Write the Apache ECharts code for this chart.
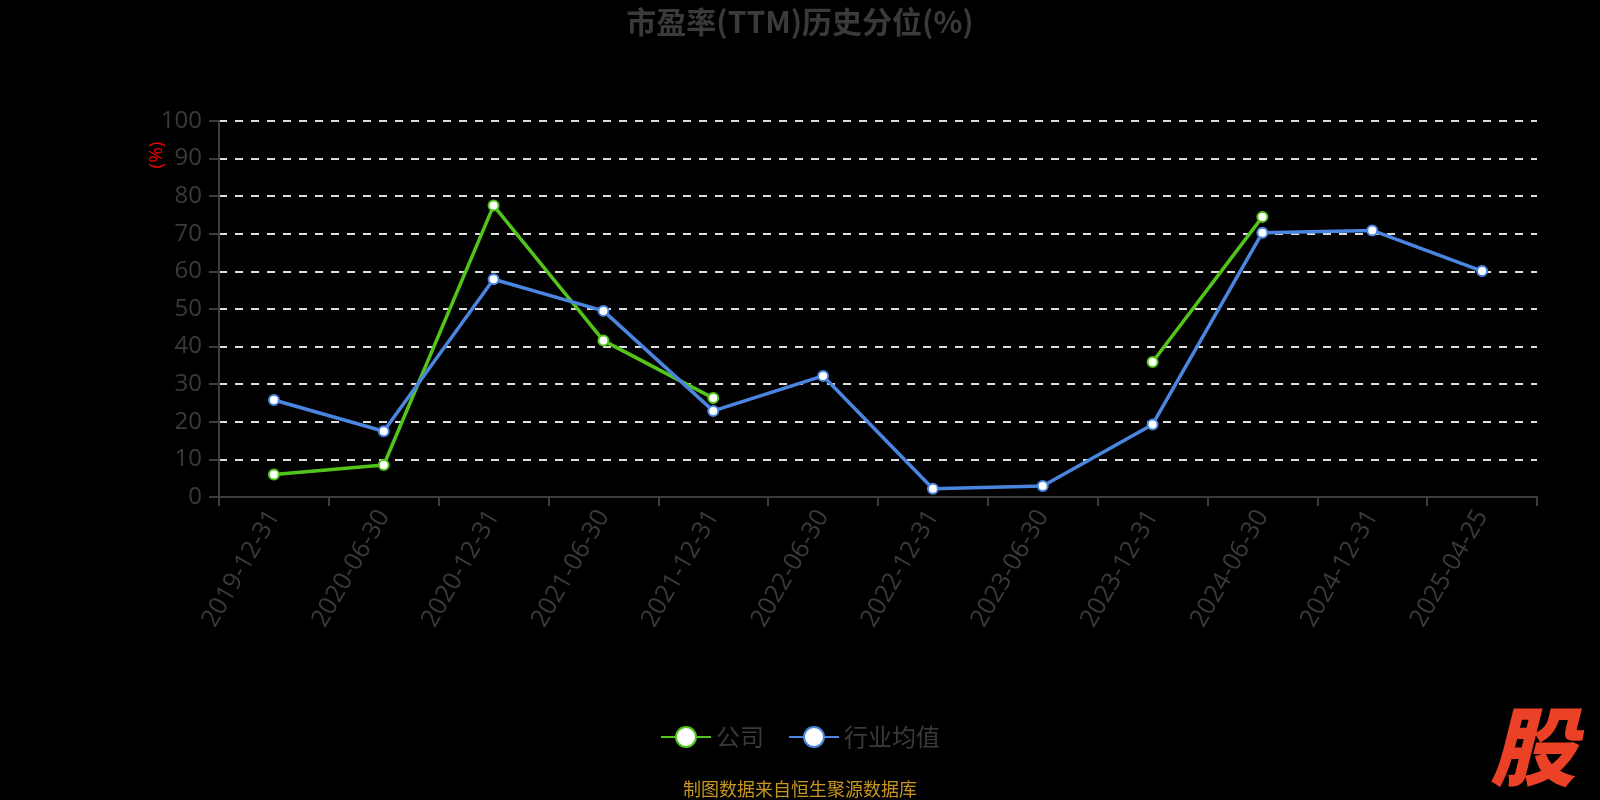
<!DOCTYPE html>
<html>
<head>
<meta charset="utf-8">
<script src="https://cdn.jsdelivr.net/npm/echarts@6/dist/echarts.min.js"></script>
<style>
html,body{margin:0;padding:0;background:#000;}
#chart{width:1600px;height:800px;}
</style>
</head>
<body>
<div id="chart"></div>
<script>
const categories = ['2019-12-31','2020-06-30','2020-12-31','2021-06-30','2021-12-31','2022-06-30','2022-12-31','2023-06-30','2023-12-31','2024-06-30','2024-12-31','2025-04-25'];
const companyValues = [6.0, 8.5, 77.5, 41.6, 26.3, null, null, null, 35.9, 74.5, null, null];
const industryValues = [25.8, 17.5, 57.9, 49.5, 22.9, 32.2, 2.2, 2.9, 19.3, 70.3, 70.9, 60.1];
const yTicks = [0,10,20,30,40,50,60,70,80,90,100];
const titleText = '市盈率(TTM)历史分位(%)';
const seriesNames = ['公司', '行业均值'];
const sourceText = '制图数据来自恒生聚源数据库';

const green = '#52c41a';
const blue = '#4a86e0';
const font = '"Open Sans","Noto Sans","Noto Sans CJK SC",sans-serif';

const chart = echarts.init(document.getElementById('chart'));
chart.setOption({
  backgroundColor: '#000',
  animation: false,
  title: {
    text: titleText,
    left: 'center',
    top: 2,
    textStyle: { color: '#3a3a3a', fontSize: 30, fontWeight: 'bold', fontFamily: '"Noto Sans CJK SC",sans-serif' }
  },
  legend: {
    data: seriesNames,
    left: 'center',
    top: 720,
    itemWidth: 50,
    itemHeight: 25,
    itemGap: 24,
    textStyle: { color: '#3a3a3a', fontSize: 24, fontFamily: '"Noto Sans CJK SC",sans-serif' }
  },
  grid: { left: 219, right: 63, top: 121, bottom: 303 },
  xAxis: {
    type: 'category',
    data: categories,
    boundaryGap: true,
    axisLine: { lineStyle: { color: '#3c3c3c', width: 2 } },
    axisTick: { show: true, length: 9, lineStyle: { color: '#3c3c3c', width: 2 } },
    axisLabel: { color: '#3a3a3a', fontSize: 25, rotate: 60, margin: 15, interval: 0, fontFamily: font }
  },
  yAxis: {
    type: 'value',
    min: 0, max: 100, interval: 10,
    axisLine: { show: true, lineStyle: { color: '#3c3c3c', width: 2 } },
    axisTick: { show: true, length: 10, lineStyle: { color: '#3c3c3c', width: 2 } },
    axisLabel: { color: '#3a3a3a', fontSize: 24, margin: 17, fontFamily: font,
      formatter: v => yTicks.includes(v) ? String(v) : '' },
    splitLine: { show: true, lineStyle: { color: '#dddddd', width: 2, type: [8, 8] } }
  },
  graphic: [
    { type: 'text', x: 157, y: 155, rotation: Math.PI / 2,
      style: { text: '(%)', fill: '#ff0000', fontSize: 19, fontFamily: font, align: 'center', verticalAlign: 'middle' } },
    { type: 'text', x: 800, y: 789,
      style: { text: sourceText, fill: '#c8961e', fontSize: 18, fontFamily: '"Noto Sans CJK SC",sans-serif', align: 'center', verticalAlign: 'middle' } },
    { type: 'text', x: 1533, y: 746,
      style: { text: '股', fill: '#ea4127', fontSize: 86, fontWeight: 900, fontStyle: 'italic', fontFamily: '"Noto Sans CJK SC",sans-serif', align: 'center', verticalAlign: 'middle' } }
  ],
  series: [
    {
      name: seriesNames[0], type: 'line', data: companyValues, connectNulls: false,
      symbol: 'circle', symbolSize: 10,
      lineStyle: { color: green, width: 3.5 },
      itemStyle: { color: '#fff', borderColor: green, borderWidth: 2 }
    },
    {
      name: seriesNames[1], type: 'line', data: industryValues, connectNulls: false,
      symbol: 'circle', symbolSize: 10,
      lineStyle: { color: blue, width: 3.5 },
      itemStyle: { color: '#fff', borderColor: blue, borderWidth: 2 }
    }
  ]
});
</script>
</body>
</html>
